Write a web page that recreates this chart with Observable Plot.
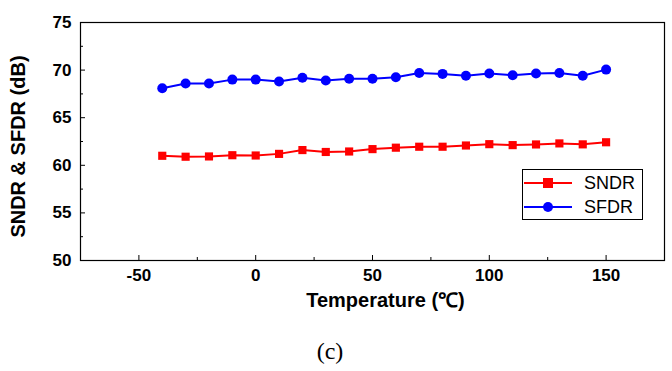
<!DOCTYPE html>
<html>
<head>
<meta charset="utf-8">
<script src="https://cdn.jsdelivr.net/npm/d3@7"></script>
<script src="https://cdn.jsdelivr.net/npm/@observablehq/plot@0.6"></script>
<style>
  html, body { margin: 0; padding: 0; background: #fff; }
  #wrap { position: relative; width: 672px; font-family: "Liberation Sans", Arial, sans-serif; }
  #legend { position: absolute; left: 522px; top: 169px; width: 121px; height: 51px; border: 1px solid #000; background: #fff; box-sizing: border-box; }
  .row { position: absolute; left: 0; height: 24px; display: flex; align-items: center; font-size: 18px; }
  .row span { margin-left: 10px; }
  #caption { font-family: "Liberation Serif", "Times New Roman", serif; font-size: 24px; width: 660px; text-align: center; margin-top: 7px; line-height: 28px; }
</style>
</head>
<body>
<div id="wrap">
  <div id="chart"></div>
  <div id="legend"></div>
  <div id="caption">(c)</div>
</div>
<script>
const temperature = [-40, -30, -20, -10, 0, 10, 20, 30, 40, 50, 60, 70, 80, 90, 100, 110, 120, 130, 140, 150];
const sndr = [61.0, 60.9, 60.93, 61.06, 61.03, 61.2, 61.6, 61.4, 61.45, 61.7, 61.85, 61.95, 61.95, 62.08, 62.22, 62.12, 62.19, 62.3, 62.2, 62.42];
const sfdr = [68.1, 68.6, 68.6, 69.0, 69.0, 68.8, 69.2, 68.9, 69.1, 69.1, 69.25, 69.7, 69.6, 69.4, 69.65, 69.45, 69.65, 69.7, 69.4, 70.05];
const seriesNames = ["SNDR", "SFDR"];
const seriesColors = ["#ff0000", "#0000ff"];
const xTicks = [-50, 0, 50, 100, 150];
const xMinorTicks = [-25, 25, 75, 125];
const yTicks = [50, 55, 60, 65, 70, 75];
const yMinorTicks = [52.5, 57.5, 62.5, 67.5, 72.5];
const xLabel = "Temperature (\u2103)";
const yLabel = "SNDR & SFDR (dB)";

const sndrData = temperature.map((t, i) => ({t, v: sndr[i]}));
const sfdrData = temperature.map((t, i) => ({t, v: sfdr[i]}));

const tickFont = {fontSize: 17, fontWeight: "bold", fill: "#000", tickFormat: d => String(d)};

const chart = Plot.plot({
  width: 672,
  height: 330,
  marginLeft: 80,
  marginRight: 8,
  marginTop: 22,
  marginBottom: 70,
  style: {fontFamily: "'Liberation Sans', Arial, sans-serif", background: "#fff", color: "#000", overflow: "visible"},
  x: {domain: [-75, 175]},
  y: {domain: [50, 75]},
  marks: [
    Plot.axisX({ticks: xTicks, tickSize: -5, text: null, label: null, stroke: "#000"}),
    Plot.axisX({ticks: xMinorTicks, tickSize: -3, text: null, label: null, stroke: "#000"}),
    Plot.axisX({ticks: xTicks, tickSize: 0, tickPadding: 8, label: null, ...tickFont}),
    Plot.axisY({ticks: yTicks, tickSize: -5, text: null, label: null, stroke: "#000"}),
    Plot.axisY({ticks: yMinorTicks, tickSize: -3, text: null, label: null, stroke: "#000"}),
    Plot.axisY({ticks: yTicks, tickSize: 0, tickPadding: 9, label: null, ...tickFont}),
    Plot.frame({stroke: "#000", strokeWidth: 1.2}),
    Plot.line(sndrData, {x: "t", y: "v", stroke: seriesColors[0], strokeWidth: 2}),
    Plot.dot(sndrData, {x: "t", y: "v", symbol: "square", r: 4.6, fill: seriesColors[0], stroke: "none"}),
    Plot.line(sfdrData, {x: "t", y: "v", stroke: seriesColors[1], strokeWidth: 2}),
    Plot.dot(sfdrData, {x: "t", y: "v", symbol: "circle", r: 5, fill: seriesColors[1], stroke: "none"}),
    Plot.text([xLabel], {frameAnchor: "bottom", dx: 13, dy: 46, textAnchor: "middle", fontSize: 20, fontWeight: "bold", fill: "#000"}),
    Plot.text([yLabel], {frameAnchor: "left", dx: -62, dy: 5, rotate: -90, textAnchor: "middle", fontSize: 20, fontWeight: "bold", fill: "#000"})
  ]
});
document.getElementById("chart").appendChild(chart);

const legend = document.getElementById("legend");
const shapes = [
  '<rect x="19" y="7" width="10" height="10" fill="' + seriesColors[0] + '"/>',
  '<circle cx="24" cy="12" r="5" fill="' + seriesColors[1] + '"/>'
];
seriesNames.forEach((name, i) => {
  const row = document.createElement("div");
  row.className = "row";
  row.style.top = (1 + i * 24) + "px";
  row.innerHTML = '<svg width="50" height="24" style="margin-left:1px"><line x1="0" x2="48" y1="12" y2="12" stroke="' + seriesColors[i] + '" stroke-width="2"/>' + shapes[i] + '</svg><span>' + name + '</span>';
  legend.appendChild(row);
});
</script>
</body>
</html>
